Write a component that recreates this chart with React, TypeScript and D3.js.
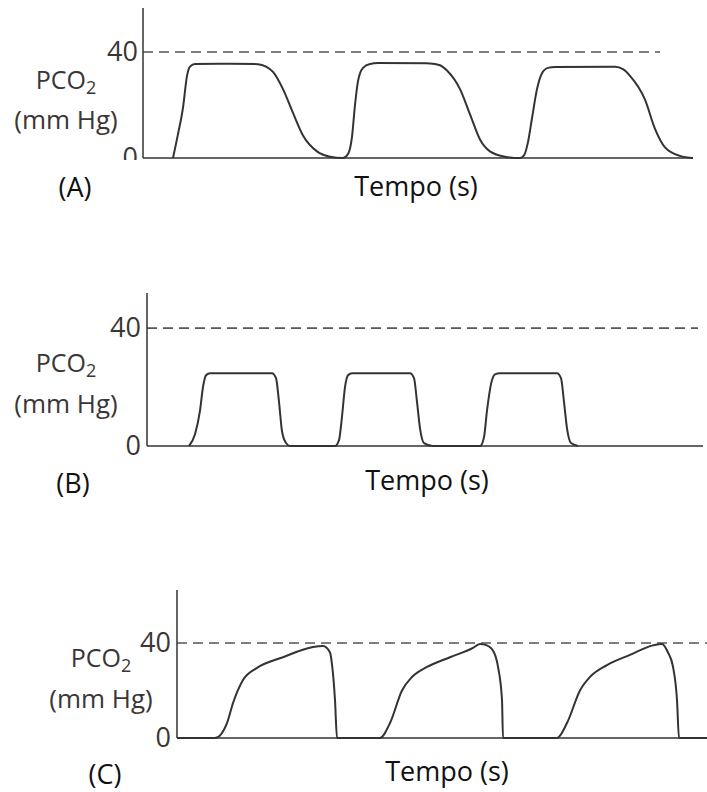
import { useEffect, useRef } from 'react'
import * as d3 from 'd3'

// Time is in arbitrary seconds (the chart has no time ticks), PCO2 in mm Hg
const timeA = [30, 35, 40, 44, 47, 52, 87, 115, 123, 130, 140, 150, 160, 174, 187, 200, 205, 209, 212, 215, 220, 227, 235, 287, 297, 304, 317, 327, 337, 347, 362, 377, 381, 385, 389, 394, 399, 405, 412, 472, 480, 487, 502, 512, 522, 537, 550]
const pco2A = [0, 9, 19, 31, 34.5, 35.5, 35.6, 35.4, 34.5, 32.5, 26, 17, 8.5, 2.5, 0.5, 0, 1.5, 8, 20, 29, 34, 35.5, 35.8, 35.7, 35, 33, 26, 16.5, 7, 2.5, 0.5, 0, 1, 6, 15, 26, 32, 34, 34.3, 34.4, 33.5, 31, 22, 11, 4, 0.8, 0]

const timeB = [42, 48, 53, 56, 59, 63, 125, 129, 132, 135, 139, 143, 188, 192, 195, 198, 201, 205, 263, 267, 270, 273, 277, 286, 333, 337, 340, 344, 348, 353, 410, 414, 417, 420, 424, 431]
const pco2B = [0, 4, 12, 20, 24, 24.7, 24.7, 23, 15, 5, 1, 0, 0, 2, 10, 20, 24, 24.7, 24.7, 23, 15, 6, 1, 0, 0, 3, 12, 21, 24.3, 24.7, 24.7, 23, 15, 6, 1, 0]

const timeC = [0, 38, 50, 56, 66, 80, 106, 136, 146, 153, 155, 158, 160, 203, 213, 225, 235, 250, 273, 296, 303, 310, 317, 321, 325, 326, 380, 390, 403, 413, 430, 453, 476, 485, 491, 496, 500, 502, 530]
const pco2C = [0, 0, 6.3, 14.7, 24.4, 29.5, 34, 38.3, 38.7, 36, 31, 16, 0, 0, 6.3, 20, 25.7, 29.9, 34, 37.9, 39.6, 39, 36, 30, 16, 0, 0, 6.3, 20, 25.7, 30.7, 35, 39, 39.6, 36, 30, 16, 0, 0]

const yTicks = [0, 40]
const refLevel = 40
const panelLabels = ['(A)', '(B)', '(C)']
const xTitle = 'Tempo (s)'

export default function App() {
  const svgRef = useRef<SVGSVGElement>(null)

  useEffect(() => {
    if (!svgRef.current) return
    const svg = d3.select(svgRef.current)
    svg.selectAll('*').remove()

    const panels = [
      {
        time: timeA, pco2: pco2A, label: panelLabels[0],
        x0: 143, x1: 693, tMax: 550, dashEnd: 660,
        base: 158, top: 8, yMax: 56.6,
        tickX: 138, tickDy: 9,
        ylabX: 66, pcoY: 89, mmY: 129,
        labX: 75, labY: 197, titleX: 416, titleY: 196,
        clipTicks: true
      },
      {
        time: timeB, pco2: pco2B, label: panelLabels[1],
        x0: 147, x1: 703, tMax: 556, dashEnd: 698,
        base: 446, top: 293, yMax: 51.9,
        tickX: 141, tickDy: 9,
        ylabX: 66, pcoY: 372, mmY: 413,
        labX: 73, labY: 493, titleX: 427, titleY: 490,
        clipTicks: false
      },
      {
        time: timeC, pco2: pco2C, label: panelLabels[2],
        x0: 177, x1: 707, tMax: 530, dashEnd: 707,
        base: 738, top: 590, yMax: 62.3,
        tickX: 171, tickDy: 9,
        ylabX: 101, pcoY: 667, mmY: 708,
        labX: 105, labY: 784, titleX: 447, titleY: 781,
        clipTicks: false
      }
    ]

    svg.append('defs')
      .append('clipPath')
      .attr('id', 'clipA')
      .append('rect')
      .attr('x', 0).attr('y', 0).attr('width', 707).attr('height', 160)

    const font = '"Open Sans", sans-serif'

    panels.forEach(p => {
      const x = d3.scaleLinear().domain([0, p.tMax]).range([p.x0, p.x1])
      const y = d3.scaleLinear().domain([0, p.yMax]).range([p.base, p.top])
      const g = svg.append('g')

      // reference level
      g.append('line')
        .attr('x1', p.x0).attr('x2', p.dashEnd)
        .attr('y1', y(refLevel)).attr('y2', y(refLevel))
        .attr('stroke', '#555')
        .attr('stroke-width', 1.7)
        .attr('stroke-dasharray', '10,6')

      // axes
      g.append('line')
        .attr('x1', p.x0).attr('x2', p.x0)
        .attr('y1', p.top).attr('y2', p.base)
        .attr('stroke', '#333').attr('stroke-width', 1.5)
      g.append('line')
        .attr('x1', p.x0).attr('x2', p.x1)
        .attr('y1', p.base).attr('y2', p.base)
        .attr('stroke', '#333').attr('stroke-width', 1.5)

      const ticks = g.append('g')
      if (p.clipTicks) ticks.attr('clip-path', 'url(#clipA)')
      ticks.selectAll('text')
        .data(yTicks)
        .enter()
        .append('text')
        .attr('x', p.tickX)
        .attr('y', d => y(d) + p.tickDy)
        .attr('text-anchor', 'end')
        .style('font-family', font)
        .style('font-size', '27px')
        .style('fill', '#3a3636')
        .text(d => d)

      // y label
      const pco = g.append('text')
        .attr('x', p.ylabX).attr('y', p.pcoY)
        .attr('text-anchor', 'middle')
        .style('font-family', font)
        .style('font-size', '25px')
        .style('fill', '#3a3636')
      pco.append('tspan').text('PCO')
      pco.append('tspan').attr('dy', 5).style('font-size', '18px').text('2')

      g.append('text')
        .attr('x', p.ylabX).attr('y', p.mmY)
        .attr('text-anchor', 'middle')
        .style('font-family', font)
        .style('font-size', '26px')
        .style('fill', '#3a3636')
        .text('(mm Hg)')

      g.append('text')
        .attr('x', p.labX).attr('y', p.labY)
        .attr('text-anchor', 'middle')
        .style('font-family', font)
        .style('font-size', '27px')
        .style('fill', '#111')
        .text(p.label)

      g.append('text')
        .attr('x', p.titleX).attr('y', p.titleY)
        .attr('text-anchor', 'middle')
        .style('font-family', font)
        .style('font-size', '27px')
        .style('fill', '#111')
        .text(xTitle)

      const data = p.time.map((t, i) => ({ t, v: p.pco2[i] }))
      const line = d3.line<{ t: number; v: number }>()
        .x(d => x(d.t))
        .y(d => y(d.v))
        .curve(d3.curveMonotoneX)

      g.append('path')
        .datum(data)
        .attr('fill', 'none')
        .attr('stroke', '#333')
        .attr('stroke-width', 2)
        .attr('stroke-linejoin', 'round')
        .attr('d', line)
    })
  }, [])

  return (
    <svg
      ref={svgRef}
      width={707}
      height={792}
      style={{ position: 'absolute', left: 0, top: 0, background: '#fff' }}
    />
  )
}
